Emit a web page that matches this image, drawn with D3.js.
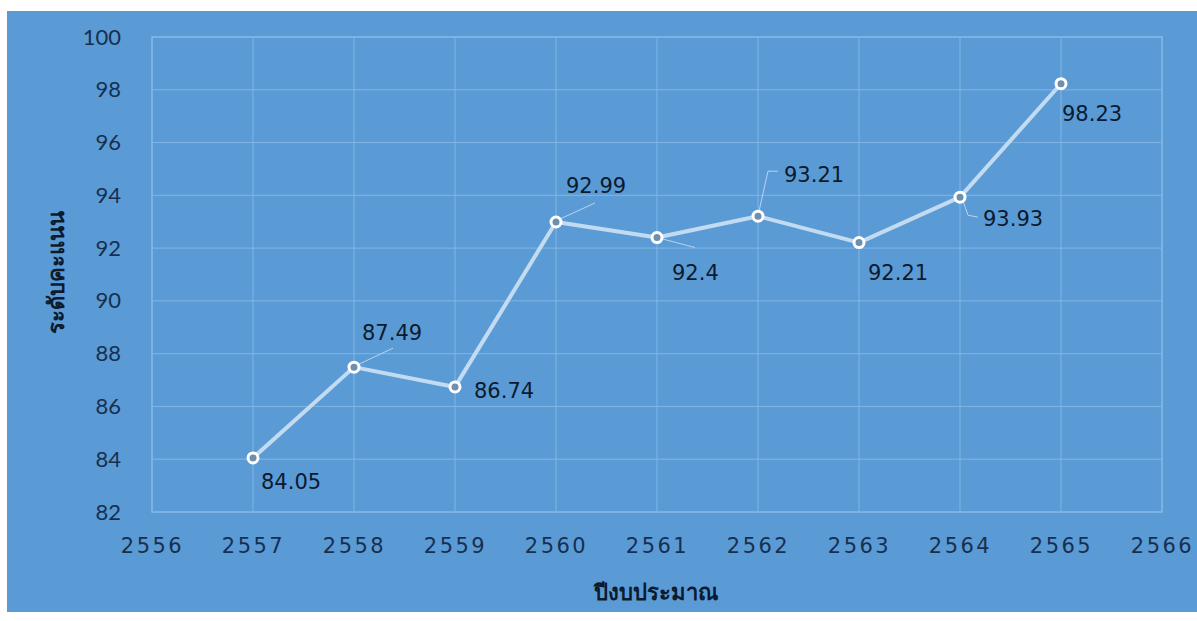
<!DOCTYPE html>
<html>
<head>
<meta charset="utf-8">
<script src="https://cdn.jsdelivr.net/npm/d3@7"></script>
<style>
  html, body { margin: 0; padding: 0; background: #ffffff; }
  svg { display: block; }
</style>
</head>
<body>
<svg id="chart" width="1197" height="621"></svg>
<script>
// Score by fiscal year (Buddhist Era)
const years = [2557, 2558, 2559, 2560, 2561, 2562, 2563, 2564, 2565];
const scores = [84.05, 87.49, 86.74, 92.99, 92.4, 93.21, 92.21, 93.93, 98.23];
const xTicks = [2556, 2557, 2558, 2559, 2560, 2561, 2562, 2563, 2564, 2565, 2566];
const yTicks = [82, 84, 86, 88, 90, 92, 94, 96, 98, 100];
const xTitle = "ปีงบประมาณ";
const yTitle = "ระดับคะแนน";

// Label placement relative to each point: [dx, dy, leader path or null]
const labelPlacement = [
  { dx: 8, dy: 31, leader: null },
  { dx: 8, dy: -27, leader: [[3, -2], [39, -19]] },
  { dx: 19, dy: 11, leader: null },
  { dx: 10, dy: -29, leader: [[4, -3], [39, -19]] },
  { dx: 15, dy: 42, leader: [[4, 1], [38, 10]] },
  { dx: 26, dy: -34, leader: [[1, -5], [10, -45], [20, -45]] },
  { dx: 9, dy: 37, leader: null },
  { dx: 23, dy: 29, leader: [[3, 4], [8, 18], [18, 20]] },
  { dx: 1, dy: 37, leader: null }
];

const svg = d3.select("#chart");
const W = 1197;
const plot = { left: 152, top: 37, right: 1162, bottom: 512 };

// Chart background panel
svg.append("rect")
  .attr("x", 7).attr("y", 11)
  .attr("width", W - 7).attr("height", 601)
  .attr("fill", "#5b9bd5");

const x = d3.scaleLinear().domain([2556, 2566]).range([plot.left, plot.right]);
const y = d3.scaleLinear().domain([82, 100]).range([plot.bottom, plot.top]);

const gridColor = "#80b6e6";
const textColor = "#0b1a2e";
const tickColor = "#172f50";

// Gridlines
const grid = svg.append("g");
grid.selectAll("line.h").data(yTicks).join("line")
  .attr("class", "h")
  .attr("x1", plot.left).attr("x2", plot.right)
  .attr("y1", d => y(d)).attr("y2", d => y(d))
  .attr("stroke", gridColor).attr("stroke-width", 1);
grid.selectAll("line.v").data(xTicks).join("line")
  .attr("class", "v")
  .attr("y1", plot.top).attr("y2", plot.bottom)
  .attr("x1", d => x(d)).attr("x2", d => x(d))
  .attr("stroke", gridColor).attr("stroke-width", 1);
svg.append("rect")
  .attr("x", plot.left).attr("y", plot.top)
  .attr("width", plot.right - plot.left).attr("height", plot.bottom - plot.top)
  .attr("fill", "none").attr("stroke", gridColor).attr("stroke-width", 1.5);

// Y axis
const yAxis = svg.append("g")
  .attr("transform", `translate(${plot.left - 31},0)`)
  .call(d3.axisLeft(y).tickValues(yTicks).tickSize(0).tickPadding(0));
yAxis.select(".domain").remove();
yAxis.selectAll("text")
  .attr("fill", tickColor)
  .style("font-family", "Lato, 'Open Sans', sans-serif")
  .style("font-size", "22px");

// X axis
const xAxis = svg.append("g")
  .attr("transform", `translate(0,${plot.bottom + 26})`)
  .call(d3.axisBottom(x).tickValues(xTicks).tickFormat(d3.format("d")).tickSize(0).tickPadding(0));
xAxis.select(".domain").remove();
xAxis.selectAll("text")
  .attr("fill", tickColor)
  .style("font-family", "'DejaVu Sans', Verdana, sans-serif")
  .style("font-size", "21px")
  .style("letter-spacing", "2.5px");

// Axis titles
svg.append("text")
  .attr("x", 656).attr("y", 600)
  .attr("text-anchor", "middle")
  .attr("fill", textColor)
  .style("font-family", "Tahoma, 'DejaVu Sans', sans-serif")
  .style("font-weight", "bold")
  .style("font-size", "22px")
  .text(xTitle);
svg.append("text")
  .attr("transform", "translate(64,272) rotate(-90)")
  .attr("text-anchor", "middle")
  .attr("fill", textColor)
  .style("font-family", "Tahoma, 'DejaVu Sans', sans-serif")
  .style("font-weight", "bold")
  .style("font-size", "22px")
  .text(yTitle);

const pts = years.map((yr, i) => ({ yr, v: scores[i], p: labelPlacement[i] }));

// Leader lines
svg.append("g").selectAll("path").data(pts.filter(d => d.p.leader)).join("path")
  .attr("d", d => d3.line()(d.p.leader.map(([dx, dy]) => [x(d.yr) + dx, y(d.v) + dy])))
  .attr("fill", "none")
  .attr("stroke", "#b8d3ee")
  .attr("stroke-width", 1);

// Series line
svg.append("path")
  .datum(pts)
  .attr("d", d3.line().x(d => x(d.yr)).y(d => y(d.v)))
  .attr("fill", "none")
  .attr("stroke", "#c3dbf1")
  .attr("stroke-width", 4)
  .attr("stroke-linejoin", "round");

// Markers
svg.append("g").selectAll("circle").data(pts).join("circle")
  .attr("cx", d => x(d.yr)).attr("cy", d => y(d.v))
  .attr("r", 5)
  .attr("fill", "#6f8fae")
  .attr("stroke", "#ffffff")
  .attr("stroke-width", 3);

// Data labels
svg.append("g").selectAll("text").data(pts).join("text")
  .attr("x", d => x(d.yr) + d.p.dx)
  .attr("y", d => y(d.v) + d.p.dy)
  .attr("fill", textColor)
  .style("font-family", "'DejaVu Sans', Verdana, sans-serif")
  .style("font-size", "21px")
  .text(d => d.v);
</script>
</body>
</html>
